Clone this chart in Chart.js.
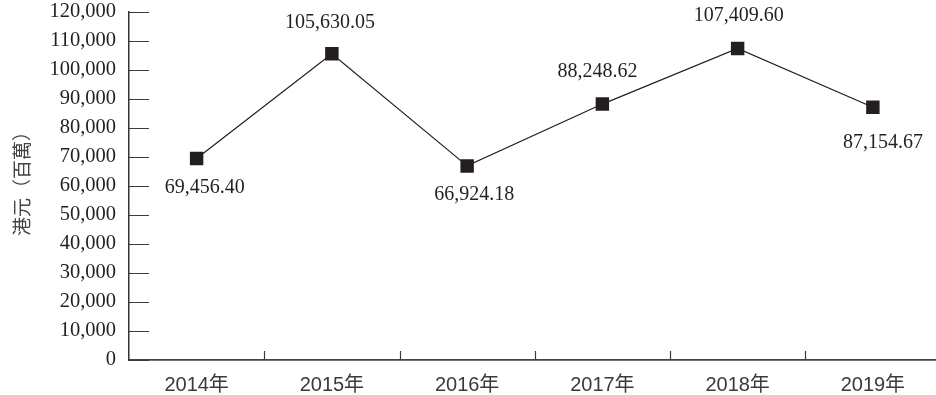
<!DOCTYPE html>
<html>
<head>
<meta charset="utf-8">
<script src="https://cdn.jsdelivr.net/npm/chart.js@4/dist/chart.umd.min.js"></script>
<style>
  html, body { margin: 0; padding: 0; background: #fff; overflow: hidden; }
  #chart { display: block; }
</style>
</head>
<body>
<canvas id="chart" width="950" height="395"></canvas>
<script>
const years = ["2014年", "2015年", "2016年", "2017年", "2018年", "2019年"];
const amounts = [69456.40, 105630.05, 66924.18, 88248.62, 107409.60, 87154.67];
const yTicks = [0, 10000, 20000, 30000, 40000, 50000, 60000, 70000, 80000, 90000, 100000, 110000, 120000];
const axisTitle = "港元（百萬）";

// where each value label sits relative to its marker (dx, dy in px)
const labelShift = [[8, 29], [-2, -31], [7, 29], [-5, -32], [1, -33], [10, 35]];

const ink = "#231f20";
const serif = "'Liberation Serif', 'Times New Roman', serif";

const fmt = (v, digits) =>
  v.toLocaleString("en-US", { minimumFractionDigits: digits, maximumFractionDigits: digits });

// short tick marks pointing into the plot area
const innerTicks = {
  id: "innerTicks",
  afterDraw(chart) {
    const { ctx, scales } = chart;
    const x = scales.x;
    const y = scales.y;
    ctx.save();
    ctx.strokeStyle = "#3a3a3a";
    ctx.lineWidth = 1.2;
    ctx.beginPath();
    for (const v of yTicks) {
      const py = Math.round(y.getPixelForValue(v)) + 0.5;
      ctx.moveTo(x.left, py);
      ctx.lineTo(x.left + 20, py);
    }
    for (let i = 1; i <= years.length; i++) {
      const px = Math.round((x.getPixelForValue(i - 1) + x.getPixelForValue(i)) / 2) + 0.5;
      ctx.moveTo(px, y.bottom);
      ctx.lineTo(px, y.bottom - 9);
    }
    ctx.stroke();
    ctx.restore();
  }
};

// rotated unit title left of the value axis
const unitTitle = {
  id: "unitTitle",
  afterDraw(chart) {
    const { ctx } = chart;
    ctx.save();
    ctx.translate(22, 179);
    ctx.rotate(-Math.PI / 2);
    ctx.font = "19px 'Noto Sans CJK TC', sans-serif";
    ctx.fillStyle = "#444";
    ctx.textAlign = "center";
    ctx.textBaseline = "middle";
    ctx.fillText(axisTitle, 0, 0);
    ctx.restore();
  }
};

// value labels next to each marker
const valueLabels = {
  id: "valueLabels",
  afterDatasetsDraw(chart) {
    const { ctx } = chart;
    const meta = chart.getDatasetMeta(0);
    ctx.save();
    ctx.font = "20px " + serif;
    ctx.fillStyle = ink;
    ctx.textAlign = "center";
    ctx.textBaseline = "middle";
    meta.data.forEach((pt, i) => {
      const [dx, dy] = labelShift[i];
      ctx.fillText(fmt(amounts[i], 2), pt.x + dx, pt.y + dy);
    });
    ctx.restore();
  }
};

new Chart(document.getElementById("chart"), {
  type: "line",
  data: {
    labels: years,
    datasets: [{
      data: amounts,
      borderColor: ink,
      borderWidth: 1.2,
      pointStyle: "rect",
      pointRadius: 9.5,
      pointBackgroundColor: ink,
      pointBorderWidth: 0,
      tension: 0
    }]
  },
  options: {
    responsive: false,
    animation: false,
    layout: { padding: { left: 0, top: 12, right: 8, bottom: 0 } },
    plugins: {
      legend: { display: false },
      tooltip: { enabled: false }
    },
    scales: {
      x: {
        offset: true,
        grid: { display: false, drawTicks: false },
        border: { display: true, color: "#444", width: 1.8 },
        ticks: {
          padding: 13,
          color: "#3a3a3a",
          font: { family: "'Liberation Sans', 'Noto Sans CJK TC', sans-serif", size: 20 }
        },
        afterFit(scale) {
          scale.height = 35;
          scale.paddingLeft = 0;
          scale.paddingRight = 0;
        }
      },
      y: {
        min: 0,
        max: 120000,
        afterBuildTicks(scale) { scale.ticks = yTicks.map(v => ({ value: v })); },
        grid: { display: false, drawTicks: false },
        border: { display: true, color: "#333", width: 1.5 },
        ticks: {
          padding: 13,
          color: ink,
          font: { family: serif, size: 20.5 },
          callback: v => fmt(v, 0)
        },
        afterFit(scale) {
          scale.width = 129;
          scale.paddingTop = 0;
          scale.paddingBottom = 0;
        }
      }
    }
  },
  plugins: [innerTicks, unitTitle, valueLabels]
});
</script>
</body>
</html>
